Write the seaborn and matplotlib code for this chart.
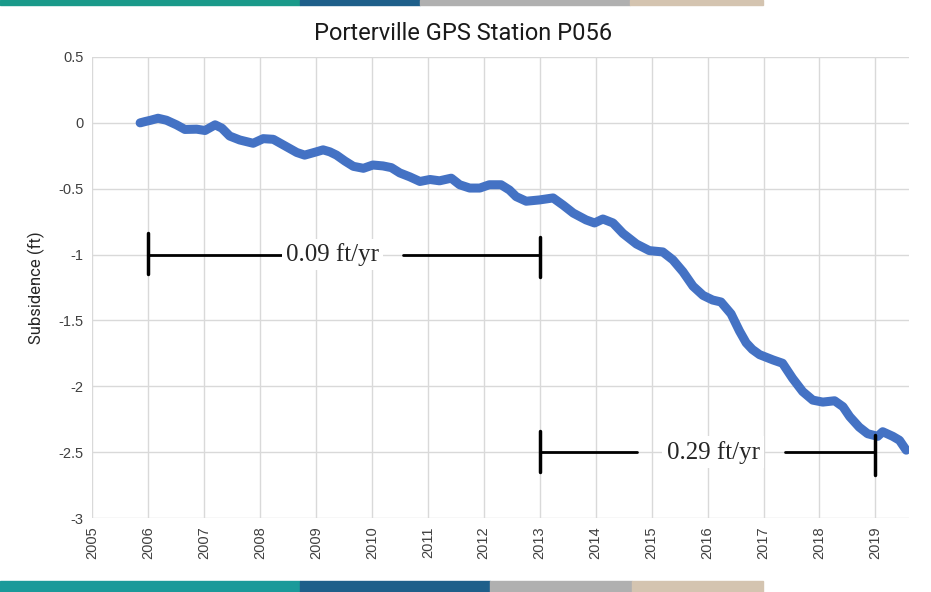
import numpy as np
import pandas as pd
import matplotlib
matplotlib.use("Agg")
import matplotlib.pyplot as plt
import seaborn as sns
from matplotlib.patches import Rectangle

# GPS station P056 subsidence
years = [2005.86, 2005.95, 2006.05, 2006.18, 2006.33, 2006.51, 2006.66, 2006.87, 2007.02, 2007.2,
         2007.32, 2007.46, 2007.64, 2007.88, 2008.06, 2008.24, 2008.45, 2008.66, 2008.8, 2009.01,
         2009.13, 2009.25, 2009.37, 2009.52, 2009.67, 2009.85, 2010.02, 2010.2, 2010.35, 2010.5,
         2010.68, 2010.86, 2011.04, 2011.21, 2011.42, 2011.57, 2011.75, 2011.93, 2012.1, 2012.31,
         2012.46, 2012.58, 2012.76, 2013.0, 2013.24, 2013.42, 2013.6, 2013.83, 2013.98, 2014.13,
         2014.31, 2014.49, 2014.73, 2014.96, 2015.2, 2015.38, 2015.56, 2015.74, 2015.92, 2016.09,
         2016.24, 2016.42, 2016.57, 2016.69, 2016.8, 2016.93, 2017.17, 2017.34, 2017.52, 2017.7,
         2017.88, 2018.06, 2018.27, 2018.42, 2018.54, 2018.71, 2018.86, 2019.04, 2019.13, 2019.31,
         2019.43, 2019.55]
subsidence = [0.0, 0.01, 0.02, 0.035, 0.02, -0.015, -0.05, -0.048, -0.058, -0.015,
              -0.04, -0.1, -0.13, -0.155, -0.12, -0.125, -0.175, -0.225, -0.245, -0.22,
              -0.205, -0.22, -0.245, -0.29, -0.33, -0.345, -0.32, -0.327, -0.34, -0.38,
              -0.41, -0.445, -0.43, -0.44, -0.42, -0.47, -0.495, -0.495, -0.47, -0.47,
              -0.51, -0.56, -0.595, -0.585, -0.57, -0.625, -0.685, -0.737, -0.76, -0.73,
              -0.76, -0.84, -0.92, -0.97, -0.98, -1.04, -1.13, -1.24, -1.31, -1.345,
              -1.36, -1.45, -1.58, -1.67, -1.72, -1.76, -1.8, -1.825, -1.94, -2.04,
              -2.105, -2.12, -2.11, -2.155, -2.23, -2.31, -2.36, -2.38, -2.345, -2.38,
              -2.41, -2.485]

# rate brackets: start year, end year, level, label, label position
rate_start = [2006, 2013]
rate_end = [2013, 2019]
rate_level = [-1.0, -2.5]
rate_labels = ["0.09 ft/yr", "0.29 ft/yr"]
gap_left = [2008.94, 2014.74]
gap_right = [2010.55, 2017.38]
label_x = [2009.3, 2016.1]

x_ticks = list(range(2005, 2020))
y_ticks = [0.5, 0, -0.5, -1, -1.5, -2, -2.5, -3]

df = pd.DataFrame({"year": years, "subsidence": subsidence})

sns.set_style("white")
plt.rcParams["font.family"] = ["Liberation Sans", "DejaVu Sans"]

fig = plt.figure(figsize=(9.31, 5.92), dpi=100)
ax = fig.add_axes([92 / 931, 1 - 518 / 592, (909 - 92) / 931, (518 - 57) / 592])

# screenshot edges
fig.patches.append(Rectangle((0, 1 - 5 / 592), 300 / 931, 5 / 592, transform=fig.transFigure, color="#1a9a8a", zorder=-1))
fig.patches.append(Rectangle((300 / 931, 1 - 5 / 592), 120 / 931, 5 / 592, transform=fig.transFigure, color="#1e5f8a", zorder=-1))
fig.patches.append(Rectangle((420 / 931, 1 - 5 / 592), 210 / 931, 5 / 592, transform=fig.transFigure, color="#b0b0b0", zorder=-1))
fig.patches.append(Rectangle((630 / 931, 1 - 5 / 592), 133 / 931, 5 / 592, transform=fig.transFigure, color="#d4c4b0", zorder=-1))
fig.patches.append(Rectangle((0, 0), 300 / 931, 11 / 592, transform=fig.transFigure, color="#1a9a9a", zorder=-1))
fig.patches.append(Rectangle((300 / 931, 0), 190 / 931, 11 / 592, transform=fig.transFigure, color="#1e5f8a", zorder=-1))
fig.patches.append(Rectangle((490 / 931, 0), 142 / 931, 11 / 592, transform=fig.transFigure, color="#b0b0b0", zorder=-1))
fig.patches.append(Rectangle((632 / 931, 0), 131 / 931, 11 / 592, transform=fig.transFigure, color="#d4c4b0", zorder=-1))

sns.lineplot(data=df, x="year", y="subsidence", ax=ax, color="#4472C4",
             linewidth=6.5, solid_capstyle="round", solid_joinstyle="round", zorder=3)

for i in range(len(rate_labels)):
    y = rate_level[i]
    ax.plot([rate_start[i], gap_left[i]], [y, y], color="black", lw=2, zorder=4)
    ax.plot([gap_right[i], rate_end[i]], [y, y], color="black", lw=2, zorder=4)
    ax.plot([rate_start[i], rate_start[i]], [y - 0.15, y + 0.16], color="black", lw=2.5, zorder=4)
    ax.plot([rate_end[i], rate_end[i]], [y - 0.17, y + 0.13], color="black", lw=2.5, zorder=4)
    ax.text(label_x[i], y, rate_labels[i], ha="center", va="center", fontsize=18,
            family=["Liberation Serif", "DejaVu Serif"], zorder=5,
            bbox=dict(facecolor="white", edgecolor="none", pad=3))

ax.set_xlim(2005, 2019.6)
ax.set_ylim(-3, 0.5)
ax.set_xticks(x_ticks)
ax.set_xticklabels([str(t) for t in x_ticks], rotation=90)
ax.set_yticks(y_ticks)
ax.set_yticklabels([f"{t:g}" for t in y_ticks])
ax.tick_params(axis="both", length=0, labelsize=10.5, colors="#404040", pad=6)
ax.grid(True, color="#D9D9D9", linewidth=1)
for s in ax.spines.values():
    s.set_visible(False)
ax.set_xlabel("")
ax.set_ylabel("Subsidence (ft)", fontsize=12, color="#262626",
              family=["Roboto", "Liberation Sans", "DejaVu Sans"], labelpad=10)

fig.text(463 / 931, 1 - 33 / 592, "Porterville GPS Station P056", ha="center", va="center",
         fontsize=17, color="#1a1a1a",
         family=["Roboto", "Liberation Sans", "DejaVu Sans"])

fig.savefig("out.png", dpi=100)
